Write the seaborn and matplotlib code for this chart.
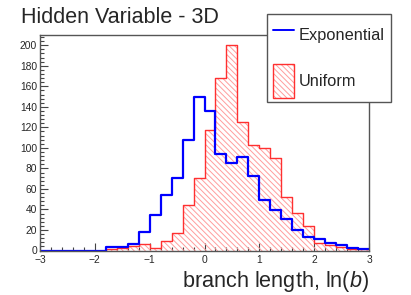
import numpy as np
import pandas as pd
import matplotlib
matplotlib.use("Agg")
import matplotlib.pyplot as plt
import seaborn as sns
from matplotlib.lines import Line2D
from matplotlib.patches import Patch, Rectangle
from matplotlib.legend_handler import HandlerTuple, HandlerPatch
from matplotlib.ticker import MultipleLocator

# ---- data ----
bin_edges = [round(-3.0 + 0.2 * i, 2) for i in range(31)]
exponential = [0, 0, 0, 0, 0, 0, 3, 3, 6, 18,
               35, 54, 71, 108, 150, 136, 94, 85, 91, 73,
               49, 39, 31, 20, 13, 11, 7, 5, 2, 1]
uniform = [0, 0, 0, 0, 0, 0, 1, 2, 4, 6,
           2, 9, 17, 44, 71, 117, 168, 200, 125, 103,
           100, 90, 52, 37, 24, 7, 5, 3, 1, 1]
x_ticks = [-3, -2, -1, 0, 1, 2, 3]
y_ticks = [0, 20, 40, 60, 80, 100, 120, 140, 160, 180, 200]
title = "Hidden Variable - 3D"
series_names = ["Exponential", "Uniform"]

edges = np.array(bin_edges)
bin_centers = (edges[:-1] + edges[1:]) / 2
df = pd.DataFrame({"center": bin_centers, "exp": exponential, "uni": uniform})

sns.set_style("white")
plt.rcParams["font.family"] = ["Liberation Sans", "DejaVu Sans"]
plt.rcParams["mathtext.fontset"] = "custom"
plt.rcParams["mathtext.rm"] = "Liberation Sans"
plt.rcParams["mathtext.it"] = "Liberation Sans:italic"
plt.rcParams["hatch.linewidth"] = 0.7

W, H = 411, 295
fig = plt.figure(figsize=(W / 100, H / 100), dpi=100)
ax = fig.add_axes([40 / W, (H - 250.5) / H, (369 - 40) / W, (250.5 - 35) / H])

red = "#ff3030"
pink = "#ff9d9d"
blue = "#0000ff"
HATCH = "\\" * 6

# hatched fill for Uniform
sns.histplot(data=df, x="center", weights="uni", bins=bin_edges, element="step",
             fill=True, ax=ax, color=pink, alpha=1)
for coll in ax.collections:
    coll.set_facecolor("none")
    coll.set_edgecolor(pink)
    coll.set_hatch(HATCH)
    coll.set_linewidth(0)
# outline Uniform
sns.histplot(data=df, x="center", weights="uni", bins=bin_edges, element="step",
             fill=False, ax=ax, color=red, linewidth=1.0)
# Exponential
sns.histplot(data=df, x="center", weights="exp", bins=bin_edges, element="step",
             fill=False, ax=ax, color=blue, linewidth=1.6)

ax.set_xlim(-3, 3)
ax.set_ylim(0, 210)
ax.set_xticks(x_ticks)
ax.set_yticks(y_ticks)
ax.xaxis.set_minor_locator(MultipleLocator(0.2))
ax.yaxis.set_minor_locator(MultipleLocator(4))
ax.tick_params(axis="both", which="major", direction="in", length=6, width=0.8,
               color="#444444", labelsize=7.4, pad=2, top=False, right=False,
               bottom=True, left=True)
ax.tick_params(axis="x", which="major", pad=3)
ax.tick_params(axis="both", which="minor", direction="in", length=3, width=0.8,
               color="#444444", top=False, right=False, bottom=True, left=True)
ax.set_ylabel("")
ax.set_xlabel("branch length, ln($b$)", loc="right", fontsize=15.6, labelpad=3)
for s in ax.spines.values():
    s.set_color("#555555")
    s.set_linewidth(1.0)

fig.text(20.7 / W, 1 - 22.7 / H, title, fontsize=15.5, ha="left", va="baseline")


def tall_patch(legend, orig_handle, xdescent, ydescent, width, height, fontsize):
    return Rectangle((-xdescent, -ydescent - 1.5), width, height + 3)


h_exp = Line2D([], [], color=blue, linewidth=1.4)
h_uni = (Patch(facecolor="white", edgecolor=pink, hatch=HATCH, linewidth=0),
         Patch(facecolor="none", edgecolor=red, linewidth=1.0))
leg = ax.legend([h_exp, h_uni], series_names, loc="upper left",
                bbox_to_anchor=(267 / W, 1 - 14 / H), bbox_transform=fig.transFigure,
                borderaxespad=0, fontsize=11.8, frameon=True, fancybox=False,
                handlelength=1.28, handleheight=2.4, handletextpad=0.3,
                labelspacing=1.0, borderpad=0.38,
                handler_map={tuple: HandlerTuple(ndivide=1, pad=0),
                             Patch: HandlerPatch(patch_func=tall_patch)})
leg.get_frame().set_edgecolor("#555555")
leg.get_frame().set_linewidth(1.0)
leg.get_frame().set_alpha(1)

fig.savefig("out.png", dpi=100)
